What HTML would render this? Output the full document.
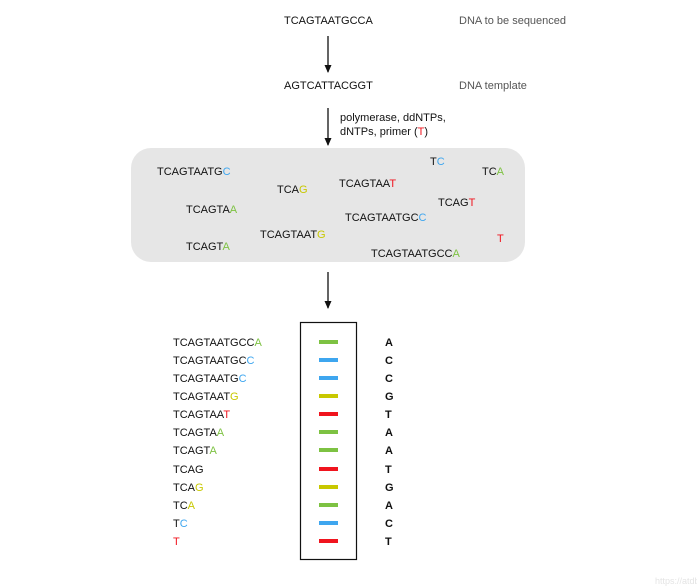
<!DOCTYPE html><html><head><style>
body{margin:0;width:697px;height:588px;background:#fff;position:relative;font-family:"Liberation Sans",sans-serif;font-size:11px;color:#111;overflow:hidden}
.t{position:absolute;line-height:12px;white-space:nowrap;transform:translateY(-5px)}
.g{color:#7dc242}.b{color:#3ea6ef}.y{color:#c8c800}.r{color:#f0141e}
.gr{color:#555}
.bar{position:absolute;left:319px;width:19px;height:4px;transform:translateY(-2px)}
.L{position:absolute;left:385px;font-weight:bold;transform:translateY(-5px);line-height:12px}
</style></head><body>
<div class="t" style="left:284px;top:20px">TCAGTAATGCCA</div>
<div class="t gr" style="left:459px;top:20px">DNA to be sequenced</div>
<div class="t" style="left:284px;top:85px">AGTCATTACGGT</div>
<div class="t gr" style="left:459px;top:85px">DNA template</div>
<div class="t" style="left:340px;top:117px">polymerase, ddNTPs,</div>
<div class="t" style="left:340px;top:131px">dNTPs, primer (<span class="r">T</span>)</div>
<svg style="position:absolute;left:0;top:0" width="697" height="588">
<g stroke="#111" stroke-width="1.3">
<line x1="328" y1="36" x2="328" y2="72"/><path d="M324.5,65 L331.5,65 L328,73z" fill="#111" stroke="none"/>
<line x1="328" y1="108" x2="328" y2="145"/><path d="M324.5,138 L331.5,138 L328,146z" fill="#111" stroke="none"/>
<line x1="328" y1="272" x2="328" y2="308"/><path d="M324.5,301 L331.5,301 L328,309z" fill="#111" stroke="none"/>
</g>
<rect x="131" y="148" width="394" height="114" rx="20" fill="#e6e6e6"/>
<rect x="300.5" y="322.5" width="56" height="237" fill="none" stroke="#111" stroke-width="1.2"/>
</svg>
<div class="t" style="left:157px;top:171px">TCAGTAATG<span class="b">C</span></div>
<div class="t" style="left:430px;top:161px">T<span class="b">C</span></div>
<div class="t" style="left:482px;top:171px">TC<span class="g">A</span></div>
<div class="t" style="left:277px;top:189px">TCA<span class="y">G</span></div>
<div class="t" style="left:339px;top:183px">TCAGTAA<span class="r">T</span></div>
<div class="t" style="left:438px;top:202px">TCAG<span class="r">T</span></div>
<div class="t" style="left:186px;top:209px">TCAGTA<span class="g">A</span></div>
<div class="t" style="left:345px;top:217px">TCAGTAATGC<span class="b">C</span></div>
<div class="t" style="left:260px;top:234px">TCAGTAAT<span class="y">G</span></div>
<div class="t r" style="left:497px;top:238px">T</div>
<div class="t" style="left:186px;top:246px">TCAGT<span class="g">A</span></div>
<div class="t" style="left:371px;top:253px">TCAGTAATGCC<span class="g">A</span></div>

<div class="t" style="left:173px;top:342px">TCAGTAATGCC<span class="g">A</span></div><div class="bar" style="top:342px;background:#7dc242"></div><div class="L" style="top:342px">A</div>
<div class="t" style="left:173px;top:360px">TCAGTAATGC<span class="b">C</span></div><div class="bar" style="top:360px;background:#3ea6ef"></div><div class="L" style="top:360px">C</div>
<div class="t" style="left:173px;top:378px">TCAGTAATG<span class="b">C</span></div><div class="bar" style="top:378px;background:#3ea6ef"></div><div class="L" style="top:378px">C</div>
<div class="t" style="left:173px;top:396px">TCAGTAAT<span class="y">G</span></div><div class="bar" style="top:396px;background:#c8c800"></div><div class="L" style="top:396px">G</div>
<div class="t" style="left:173px;top:414px">TCAGTAA<span class="r">T</span></div><div class="bar" style="top:414px;background:#f0141e"></div><div class="L" style="top:414px">T</div>
<div class="t" style="left:173px;top:432px">TCAGTA<span class="g">A</span></div><div class="bar" style="top:432px;background:#7dc242"></div><div class="L" style="top:432px">A</div>
<div class="t" style="left:173px;top:450px">TCAGT<span class="g">A</span></div><div class="bar" style="top:450px;background:#7dc242"></div><div class="L" style="top:450px">A</div>
<div class="t" style="left:173px;top:469px">TCAG</div><div class="bar" style="top:469px;background:#f0141e"></div><div class="L" style="top:469px">T</div>
<div class="t" style="left:173px;top:487px">TCA<span class="y">G</span></div><div class="bar" style="top:487px;background:#c8c800"></div><div class="L" style="top:487px">G</div>
<div class="t" style="left:173px;top:505px">TC<span class="y">A</span></div><div class="bar" style="top:505px;background:#7dc242"></div><div class="L" style="top:505px">A</div>
<div class="t" style="left:173px;top:523px">T<span class="b">C</span></div><div class="bar" style="top:523px;background:#3ea6ef"></div><div class="L" style="top:523px">C</div>
<div class="t r" style="left:173px;top:541px">T</div><div class="bar" style="top:541px;background:#f0141e"></div><div class="L" style="top:541px">T</div>
<div class="t" style="left:655px;top:580px;color:#e4e4e4;font-size:9px">https://atdb</div>
</body></html>
